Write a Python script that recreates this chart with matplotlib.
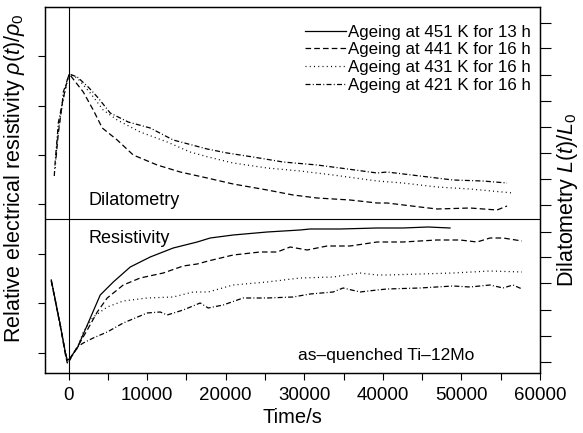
import matplotlib
matplotlib.use("Agg")
import matplotlib.pyplot as plt

plt.rcParams['font.family'] = ['Liberation Sans', 'DejaVu Sans']
plt.rcParams['mathtext.fontset'] = 'custom'
plt.rcParams['mathtext.rm'] = 'Liberation Sans'
plt.rcParams['mathtext.it'] = 'Liberation Sans:italic'

# ---- Dilatometry (upper part, arbitrary units) ----
dil441_t = [-1600, -1300, -800, -165, 90, 1870, 3140, 4290, 6190, 8230, 11280, 14210, 17640,
            20950, 25280, 28580, 31640, 35830, 39270, 40540, 44730, 46900, 51100, 54530, 55810]
dil441_y = [215, 240, 270, 293, 299, 281, 263, 245, 233, 218, 208, 201, 195,
            189, 183, 178, 175, 173, 170, 170, 166, 164, 165, 163, 167]

dil431_t = [-1700, -1400, -800, -165, 90, 1110, 2760, 4410, 6190, 9120, 12550, 15480, 17770,
            20950, 25280, 29470, 33670, 39270, 42570, 46900, 51100, 56570]
dil431_y = [205, 238, 268, 292, 299, 295, 280, 263, 253, 241, 231, 221, 216,
            210, 205, 202, 198, 192, 190, 186, 184, 180]

dil421_t = [-1820, -1690, -1440, -1310, -800, -670, -165, 90, 1110, 2500, 3780, 5300, 7590,
            10390, 13320, 17640, 20190, 23490, 27310, 31640, 34560, 39270, 40540, 44730,
            48930, 52750, 55810]
dil421_y = [197, 213, 236, 250, 270, 281, 293, 299, 296, 286, 275, 260, 251,
            245, 233, 224, 220, 216, 211, 208, 205, 200, 201, 197,
            193, 192, 190]

# ---- Resistivity (lower part, arbitrary units) ----
res451_t = [-2200, -1060, -400, -165, 90, 1110, 2380, 4030, 5690, 7850, 10390, 13320, 16370,
            18030, 20950, 25280, 29470, 30740, 34560, 39270, 42570, 45750, 48550]
res451_y = [93, 48, 20, 13, 14, 25, 48, 78, 91, 106, 116, 125, 131,
            135, 138, 141, 143, 144, 144, 145, 145, 146, 145]

res441_t = [-2200, -1060, -400, -165, 90, 1110, 2380, 3650, 4920, 6960, 9120, 12050, 14590,
            16370, 17770, 20950, 24380, 26550, 28200, 30370, 32900, 35830, 39270, 42570,
            46900, 49820, 51990, 53640, 55300, 57710]
res441_y = [92, 47, 18, 10, 13, 26, 43, 61, 75, 88, 95, 100, 107,
            109, 112, 118, 121, 121, 126, 123, 127, 127, 131, 131,
            133, 133, 131, 135, 135, 132]

res431_t = [-2200, -1060, -400, -165, 90, 1110, 1870, 3140, 4920, 6960, 10010, 13320, 15860,
            17770, 20950, 25280, 29470, 33670, 37100, 39270, 40540, 44730, 48930, 53640, 57710]
res431_y = [93, 49, 19, 12, 13, 25, 41, 56, 66, 72, 75, 76, 81,
            81, 88, 91, 95, 96, 100, 98, 98, 99, 100, 102, 101]

res421_t = [-2200, -1060, -400, -165, 90, 1110, 1870, 3140, 4920, 6960, 10010, 11660, 12550,
            14590, 16750, 17770, 19680, 22220, 25280, 28580, 30740, 33670, 34940, 37100,
            39270, 40540, 44730, 48930, 51100, 53640, 55300, 56570, 57710]
res421_y = [92, 48, 21, 11, 12, 26, 30, 35, 41, 50, 60, 61, 58,
            63, 70, 65, 68, 75, 75, 76, 79, 81, 85, 81,
            83, 84, 85, 87, 86, 88, 85, 88, 84]

labels = ["Ageing at 451 K for 13 h", "Ageing at 441 K for 16 h",
          "Ageing at 431 K for 16 h", "Ageing at 421 K for 16 h"]

x_major = [0, 10000, 20000, 30000, 40000, 50000, 60000]
x_minor = [5000, 15000, 25000, 35000, 45000, 55000]
left_ticks = [20, 69.5, 119, 168.5, 218, 267.5, 317]
right_ticks = [11, 37, 63, 90, 116, 141, 168, 194, 220, 246, 272, 298, 325, 350]
divider_y = 154

fig = plt.figure(figsize=(5.83, 4.33), dpi=100)
ax = fig.add_axes([0.0772, 0.1386, 0.8490, 0.8452])

lw = 0.9
dash = (0, (4.5, 2.5))
dot = (0, (0.8, 2.6))
dashdot = (0, (4, 1.8, 0.8, 1.8))

l1, = ax.plot(res451_t, res451_y, color='black', lw=lw, linestyle='-')
l2, = ax.plot(res441_t, res441_y, color='black', lw=lw, linestyle=dash)
l3, = ax.plot(res431_t, res431_y, color='black', lw=lw, linestyle=dot)
l4, = ax.plot(res421_t, res421_y, color='black', lw=lw, linestyle=dashdot)
ax.plot(dil441_t, dil441_y, color='black', lw=lw, linestyle=dash)
ax.plot(dil431_t, dil431_y, color='black', lw=lw, linestyle=dot)
ax.plot(dil421_t, dil421_y, color='black', lw=lw, linestyle=dashdot)

ax.axvline(0, color='black', lw=0.8)
ax.axhline(divider_y, color='black', lw=0.8)

ax.set_xlim(-3000, 60000)
ax.set_ylim(0, 366)

ax.set_xticks(x_major)
ax.set_xticks(x_minor, minor=True)
ax.tick_params(axis='x', which='both', direction='out', length=5, width=0.8,
               labelsize=13.5, pad=5)
ax.set_yticks(left_ticks)
ax.set_yticklabels([])
ax.tick_params(axis='y', which='both', direction='out', length=5, width=0.8)

ax2 = ax.twinx()
ax2.set_ylim(0, 366)
ax2.set_yticks(right_ticks)
ax2.set_yticklabels([])
ax2.tick_params(axis='y', direction='out', length=8, width=0.8)

for a in (ax, ax2):
    for s in a.spines.values():
        s.set_linewidth(0.9)

ax.set_xlabel("Time/s", fontsize=14.5, labelpad=3)
ax.set_ylabel(r"Relative electrical resistivity $\rho(t)/\rho_0$", fontsize=15.5)
ax.yaxis.set_label_coords(-0.036, 0.533)
ax2.set_ylabel(r"Dilatometry $L(t)/L_0$", fontsize=15.5)
ax2.yaxis.set_label_coords(1.030, 0.475)

ax.text(2500, 172, "Dilatometry", fontsize=13, va='center', ha='left')
ax.text(2500, 134, "Resistivity", fontsize=13, va='center', ha='left')
ax.text(51600, 17, "as\u2013quenched Ti\u201312Mo", fontsize=12.5, va='center', ha='right')

leg = ax.legend([l1, l2, l3, l4], labels, loc='upper right', frameon=False,
                bbox_to_anchor=(0.982, 0.952),
                fontsize=12.2, handlelength=2.4, handletextpad=0.15,
                labelspacing=0.16, borderaxespad=0.0, borderpad=0.0)

fig.savefig("out.png", dpi=100)
